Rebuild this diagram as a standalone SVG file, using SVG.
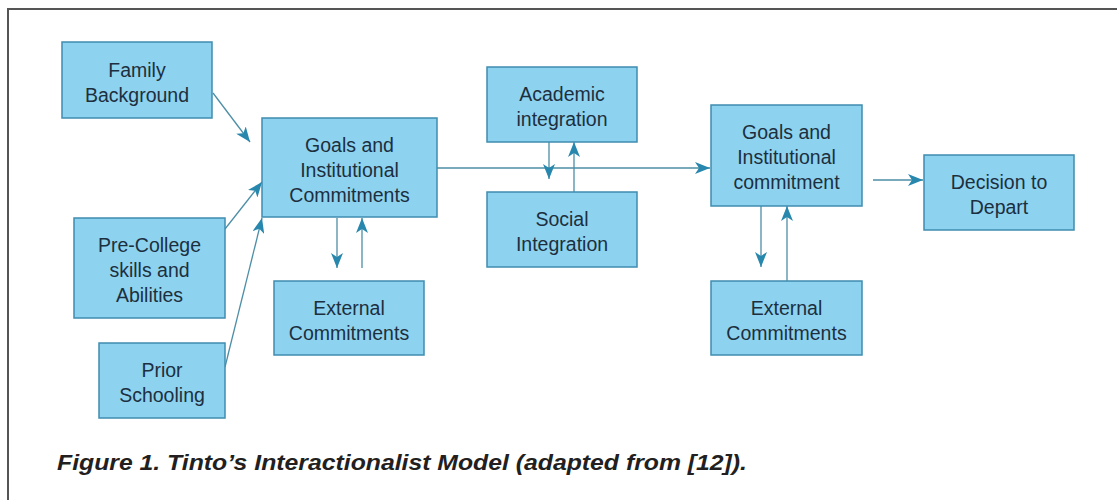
<svg xmlns="http://www.w3.org/2000/svg" width="1117" height="500" viewBox="0 0 1117 500">
<style>
.box{fill:#8dd3ef;stroke:#3f8cb0;stroke-width:1.5}
.lbl{font-family:"Liberation Sans",Arial,sans-serif;font-size:19.5px;fill:#1d2f3e;text-anchor:middle}
.con{stroke:#4d8ea6;stroke-width:1.3;fill:none;marker-end:url(#ah)}
.cap{font-family:"Liberation Sans",Arial,sans-serif;font-size:22px;font-weight:bold;font-style:italic;fill:#231f20}
</style>
<defs>
<marker id="ah" markerUnits="userSpaceOnUse" markerWidth="16" markerHeight="12" viewBox="0 0 16 12" refX="15" refY="6" orient="auto">
<path d="M0,0 L15,6 L0,12 L4,6 Z" fill="#2787ad"/>
</marker>
</defs>
<rect width="1117" height="500" fill="#fff"/>
<g id="frame" fill="none" stroke="#555" stroke-width="2">
<path d="M8,500 V9 H1117"/>
</g>
<g id="connectors">
<line class="con" x1="213" y1="93" x2="250" y2="142"/>
<line class="con" x1="225" y1="229" x2="262" y2="182"/>
<line class="con" x1="225" y1="367" x2="262" y2="218"/>
<line class="con" x1="337" y1="218" x2="337" y2="268"/>
<line class="con" x1="362" y1="268" x2="362" y2="218"/>
<line class="con" x1="437" y1="168" x2="710" y2="168"/>
<line class="con" x1="549" y1="142" x2="549" y2="179"/>
<line class="con" x1="574" y1="192" x2="574" y2="142"/>
<line class="con" x1="873" y1="180" x2="923" y2="180"/>
<line class="con" x1="761" y1="206" x2="761" y2="267"/>
<line class="con" x1="787" y1="281" x2="787" y2="206"/>
</g>
<g id="family">
<rect class="box" x="62" y="42" width="150" height="76"/>
<text class="lbl" x="137" y="77">Family</text>
<text class="lbl" x="137" y="102">Background</text>
</g>
<g id="precollege">
<rect class="box" x="74" y="218" width="151" height="100"/>
<text class="lbl" x="149.5" y="252">Pre-College</text>
<text class="lbl" x="149.5" y="277">skills and</text>
<text class="lbl" x="149.5" y="302">Abilities</text>
</g>
<g id="prior">
<rect class="box" x="99" y="343" width="126" height="75"/>
<text class="lbl" x="162" y="377">Prior</text>
<text class="lbl" x="162" y="402">Schooling</text>
</g>
<g id="goals1">
<rect class="box" x="262" y="118" width="175" height="99"/>
<text class="lbl" x="349.5" y="152">Goals and</text>
<text class="lbl" x="349.5" y="177">Institutional</text>
<text class="lbl" x="349.5" y="202">Commitments</text>
</g>
<g id="external1">
<rect class="box" x="274" y="281" width="150" height="74"/>
<text class="lbl" x="349" y="315">External</text>
<text class="lbl" x="349" y="340">Commitments</text>
</g>
<g id="academic">
<rect class="box" x="487" y="67" width="150" height="75"/>
<text class="lbl" x="562" y="101">Academic</text>
<text class="lbl" x="562" y="126">integration</text>
</g>
<g id="social">
<rect class="box" x="487" y="192" width="150" height="75"/>
<text class="lbl" x="562" y="226">Social</text>
<text class="lbl" x="562" y="251">Integration</text>
</g>
<g id="goals2">
<rect class="box" x="711" y="105" width="151" height="101"/>
<text class="lbl" x="786.5" y="139">Goals and</text>
<text class="lbl" x="786.5" y="164">Institutional</text>
<text class="lbl" x="786.5" y="189">commitment</text>
</g>
<g id="decision">
<rect class="box" x="924" y="155" width="150" height="75"/>
<text class="lbl" x="999" y="189">Decision to</text>
<text class="lbl" x="999" y="214">Depart</text>
</g>
<g id="external2">
<rect class="box" x="711" y="281" width="151" height="74"/>
<text class="lbl" x="786.5" y="315">External</text>
<text class="lbl" x="786.5" y="340">Commitments</text>
</g>
<text class="cap" x="57" y="470" textLength="690" lengthAdjust="spacingAndGlyphs">Figure 1. Tinto’s Interactionalist Model (adapted from [12]).</text>
</svg>
